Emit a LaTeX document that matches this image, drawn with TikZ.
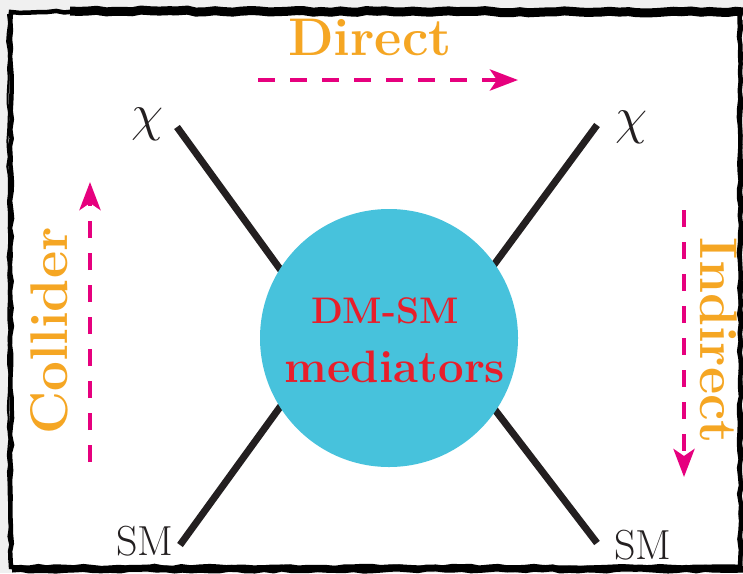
\documentclass[tikz,border=0pt]{standalone}
\usepackage{graphicx}
\usetikzlibrary{arrows.meta,decorations.pathmorphing}
\definecolor{arancio}{RGB}{245,166,35}
\definecolor{fucsia}{RGB}{230,0,126}
\definecolor{ciano}{RGB}{71,194,220}
\definecolor{rosso}{RGB}{232,30,42}
\definecolor{inchiostro}{RGB}{35,31,32}
\newcommand{\chigrande}{\scalebox{2.1}{\fontsize{24.88}{26}\selectfont$\chi$}}
\begin{document}
\begin{tikzpicture}[x=1pt,y=-1pt,
      gamba/.style={line width=7pt,draw=inchiostro},
      freccia/.style={draw=fucsia,line width=4.5pt,dash pattern=on 17pt off 15pt,
        -{Stealth[length=28pt,width=21pt,inset=7pt]}},
      canale/.style={text=arancio,inner sep=0pt,anchor=base,
        font=\fontsize{53}{56}\selectfont\bfseries},
      part/.style={text=inchiostro,inner sep=0pt},
      cornice/.style={draw=black,decorate,
        decoration={random steps,segment length=9pt,amplitude=1.1pt}}]
    \useasboundingbox (0,0) rectangle (743,573);
    % --- sfondo e cornice ---
    \fill[gray!12] (0,0) rectangle (743,573);
    \fill[white] (11,12) rectangle (740,567);
    \draw[cornice,line width=4.5pt] (11,12) rectangle (740,567);
    \draw[cornice,line width=2pt] (8,14) -- (9,560);
    \draw[cornice,line width=9pt] (70,11) -- (743,12);
    \draw[cornice,line width=7pt] (12,569) -- (743,569);
    \draw[cornice,line width=3pt] (741,20) -- (741,565);
    % --- gambe del diagramma ---
    \coordinate (TL) at (177,127);
    \coordinate (BL) at (180,545);
    \coordinate (TR) at (597,125);
    \coordinate (BR) at (597,543);
    \coordinate (vL) at (330,338);
    \coordinate (vR) at (440,338);
    \draw[gamba] (TL) -- (vL) -- (BL);
    \draw[gamba] (TR) -- (vR) -- (BR);
    % --- mediatore ---
    \node[circle,fill=ciano,minimum size=258pt,inner sep=0pt] (med) at (389,338) {};
    \node[text=rosso,inner sep=0pt,anchor=base,font=\fontsize{37}{40}\selectfont\bfseries]
      (dmsm) at (385,323) {DM-SM};
    \node[text=rosso,inner sep=0pt,anchor=base,font=\fontsize{45.5}{48}\selectfont\bfseries]
      (medtxt) at (395,382) {mediators};
    % --- particelle esterne ---
    \foreach \n/\x/\y/\t/\s in {%
        chiL/148/124/{\chigrande}/52, chiR/632/127/{\chigrande}/52,
        smL/145/541/{SM}/42, smR/643/545/{SM}/42}{
      \node[part,font=\fontsize{\s}{\s}\selectfont] (\n) at (\x,\y) {\t};
    }
    % --- canali di ricerca ---
    \node[canale] (dir) at (370,55) {Direct};
    \coordinate (dirA) at (258,80);
    \coordinate (dirB) at (518,80);
    \draw[freccia] (dirA) -- (dirB);
    \node[canale,rotate=90] (col) at (67,331) {Collider};
    \coordinate (colA) at (90,462);
    \coordinate (colB) at (90,182);
    \draw[freccia] (colA) -- (colB);
    \node[canale,rotate=-90] (ind) at (700,341) {Indirect};
    \coordinate (indA) at (684,210);
    \coordinate (indB) at (684,477);
    \draw[freccia] (indA) -- (indB);
  \end{tikzpicture}
\end{document}
